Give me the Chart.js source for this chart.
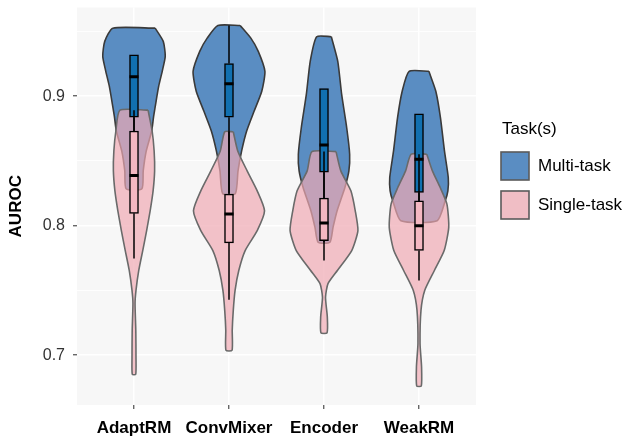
<!DOCTYPE html>
<html>
<head>
<meta charset="utf-8">
<script src="https://cdn.jsdelivr.net/npm/chart.js@4.4.1/dist/chart.umd.min.js"></script>
<style>
  html, body { margin: 0; padding: 0; background: #ffffff; }
  canvas { display: block; }
</style>
</head>
<body>
<canvas id="c" width="625" height="436"></canvas>
<script>
// ---------------- data ----------------
const categories = ['AdaptRM', 'ConvMixer', 'Encoder', 'WeakRM'];
const groups = ['Multi-task', 'Single-task'];
const yTicks = [0.7, 0.8, 0.9];
const yMinorGrid = [0.75, 0.85, 0.95];

// violin profiles: AUROC levels (top -> bottom) and density half-widths (category units)
const adaptMultiY  = [0.9525, 0.9423, 0.9308, 0.9192, 0.9077, 0.8962, 0.8846, 0.8731, 0.8577, 0.8423, 0.8285];
const adaptMultiW  = [0.223, 0.308, 0.329, 0.297, 0.260, 0.233, 0.207, 0.186, 0.129, 0.097, 0.083];
const adaptSingleY = [0.8892, 0.8731, 0.8577, 0.8423, 0.8269, 0.8115, 0.7962, 0.7808, 0.7654, 0.7500, 0.7400, 0.7192, 0.6985, 0.6852];
const adaptSingleW = [0.148, 0.191, 0.212, 0.217, 0.201, 0.170, 0.133, 0.092, 0.050, 0.021, 0.011, 0.019, 0.021, 0.018];

const convMultiY   = [0.9546, 0.9448, 0.9346, 0.9192, 0.9038, 0.8885, 0.8731, 0.8577, 0.8423, 0.8248];
const convMultiW   = [0.117, 0.230, 0.308, 0.378, 0.345, 0.265, 0.186, 0.133, 0.095, 0.067];
const convSingleY  = [0.8725, 0.8577, 0.8423, 0.8269, 0.8115, 0.7962, 0.7808, 0.7654, 0.7500, 0.7346, 0.7192, 0.7038];
const convSingleW  = [0.045, 0.092, 0.191, 0.297, 0.374, 0.297, 0.170, 0.103, 0.064, 0.045, 0.034, 0.032];

const encMultiY    = [0.9459, 0.9269, 0.9013, 0.8756, 0.8552, 0.8423, 0.8295, 0.8115, 0.7987, 0.7872];
const encMultiW    = [0.077, 0.145, 0.186, 0.239, 0.270, 0.262, 0.220, 0.138, 0.095, 0.062];
const encSingleY   = [0.8572, 0.8423, 0.8269, 0.8115, 0.7962, 0.7808, 0.7654, 0.7552, 0.7448, 0.7295, 0.7172];
const encSingleW   = [0.127, 0.177, 0.283, 0.329, 0.357, 0.292, 0.141, 0.042, 0.016, 0.035, 0.032];

const weakMultiY   = [0.9192, 0.9038, 0.8833, 0.8577, 0.8372, 0.8269, 0.8192, 0.8038];
const weakMultiW   = [0.104, 0.177, 0.226, 0.268, 0.308, 0.304, 0.276, 0.191];
const weakSingleY  = [0.8552, 0.8423, 0.8295, 0.8167, 0.7987, 0.7808, 0.7654, 0.7500, 0.7346, 0.7090, 0.6910, 0.6762];
const weakSingleW  = [0.082, 0.141, 0.223, 0.294, 0.313, 0.265, 0.162, 0.060, 0.021, 0.011, 0.027, 0.024];

// box stats per category: [whiskerLow, q1, median, q3, whiskerHigh]
const multiBox  = [
  [0.8285, 0.8838, 0.9149, 0.9320, 0.9320],
  [0.8248, 0.8838, 0.9095, 0.9252, 0.9546],
  [0.7872, 0.8413, 0.8623, 0.9059, 0.9059],
  [0.8038, 0.8256, 0.8513, 0.8864, 0.8864]
];
const singleBox = [
  [0.7746, 0.8095, 0.8387, 0.8731, 0.8892],
  [0.7428, 0.7867, 0.8090, 0.8244, 0.8725],
  [0.7731, 0.7885, 0.8021, 0.8213, 0.8572],
  [0.7577, 0.7808, 0.8000, 0.8192, 0.8552]
];

const multiProfiles  = [[adaptMultiY, adaptMultiW], [convMultiY, convMultiW], [encMultiY, encMultiW], [weakMultiY, weakMultiW]];
const singleProfiles = [[adaptSingleY, adaptSingleW], [convSingleY, convSingleW], [encSingleY, encSingleW], [weakSingleY, weakSingleW]];

// ---------------- styles ----------------
const FONT = '"Liberation Sans", Arial, Helvetica, sans-serif';
const blueFill = '#5a8dc2';
const blueLine = '#3a3a3a';
const pinkFill = 'rgba(240,170,180,0.70)';
const pinkLine = '#6a6a6a';
const blueBoxFill = '#1170b0';
const pinkBoxFill = '#f4b8c2';

function violinPoints(center, ys, ws) {
  const pts = [];
  for (let i = 0; i < ys.length; i++) pts.push({ x: center + ws[i], y: ys[i] });
  for (let i = ys.length - 1; i >= 0; i--) pts.push({ x: center - ws[i], y: ys[i] });
  pts.push({ x: pts[0].x, y: pts[0].y });
  return pts;
}

function whiskerPoints(stats) {
  const pts = [];
  stats.forEach((s, i) => {
    const x = i + 1;
    pts.push({ x, y: s[0] }, { x, y: s[1] }, { x, y: null });
    pts.push({ x, y: s[3] }, { x, y: s[4] }, { x, y: null });
  });
  return pts;
}

const datasets = [];
function addViolins(profiles, fill, line, order, label) {
  profiles.forEach((p, i) => {
    datasets.push({
      type: 'line',
      label: label,
      data: violinPoints(i + 1, p[0], p[1]),
      backgroundColor: fill,
      borderColor: line,
      borderWidth: 1.6,
      fill: 'shape',
      tension: 0.2,
      pointRadius: 0,
      showLine: true,
      order: order
    });
  });
}
addViolins(multiProfiles, blueFill, blueLine, 20, groups[0]);
addViolins(singleProfiles, pinkFill, pinkLine, 19, groups[1]);

function addBoxes(stats, boxFill, baseOrder) {
  datasets.push({
    type: 'line',
    data: whiskerPoints(stats),
    borderColor: '#000',
    borderWidth: 1.5,
    pointRadius: 0,
    spanGaps: false,
    showLine: true,
    fill: false,
    order: baseOrder
  });
  datasets.push({
    type: 'bar',
    data: stats.map((s, i) => ({ x: i + 1, y: [s[1], s[3]] })),
    backgroundColor: boxFill,
    borderColor: '#000',
    borderWidth: 1.5,
    borderSkipped: false,
    barThickness: 9,
    grouped: false,
    order: baseOrder - 1
  });
  datasets.push({
    type: 'scatter',
    data: stats.map((s, i) => ({ x: i + 1, y: s[2] })),
    pointStyle: 'line',
    pointRadius: 4.5,
    pointBorderWidth: 3,
    pointBorderColor: '#000',
    pointBackgroundColor: '#000',
    showLine: false,
    order: baseOrder - 2
  });
}
addBoxes(multiBox, blueBoxFill, 18);
addBoxes(singleBox, pinkBoxFill, 15);

const isMajor = v => yTicks.some(t => Math.abs(t - v) < 1e-6);

const bgPlugin = {
  id: 'panelBg',
  beforeDraw(chart) {
    const { ctx, chartArea: a } = chart;
    ctx.save();
    ctx.fillStyle = '#f7f7f7';
    ctx.fillRect(a.left, a.top, a.right - a.left, a.bottom - a.top);
    ctx.restore();
  }
};

const legendPlugin = {
  id: 'ggLegend',
  afterDraw(chart) {
    const ctx = chart.ctx;
    ctx.save();
    ctx.fillStyle = '#000';
    ctx.textBaseline = 'middle';
    ctx.textAlign = 'left';
    ctx.font = '17px ' + FONT;
    ctx.fillText('Task(s)', 502, 129);
    const keys = [[blueFill, 152], ['rgb(240,190,197)', 191]];
    keys.forEach((k, i) => {
      ctx.fillStyle = k[0];
      ctx.fillRect(501, k[1], 28, 28);
      ctx.strokeStyle = '#5a5a5a';
      ctx.lineWidth = 1.6;
      ctx.strokeRect(501, k[1], 28, 28);
      ctx.fillStyle = '#000';
      ctx.fillText(groups[i], 538, k[1] + 14.5);
    });
    ctx.restore();
  }
};

new Chart(document.getElementById('c').getContext('2d'), {
  type: 'scatter',
  data: { datasets },
  options: {
    responsive: false,
    animation: false,
    events: [],
    layout: { padding: { top: 6, right: 149, left: 0, bottom: 0 } },
    plugins: { legend: { display: false }, tooltip: { enabled: false } },
    scales: {
      x: {
        type: 'linear',
        min: 0.4,
        max: 4.6,
        offset: false,
        afterBuildTicks: s => { s.ticks = categories.map((c, i) => ({ value: i + 1 })); },
        afterFit: s => { s.height = 31; s.paddingLeft = 0; s.paddingRight = 0; },
        ticks: {
          callback: v => categories[Math.round(v) - 1],
          font: { family: FONT, size: 17, weight: 'bold' },
          color: '#000',
          padding: 9,
          autoSkip: false,
          maxRotation: 0
        },
        grid: { offset: false, color: '#ffffff', lineWidth: 1.5, tickColor: '#4d4d4d', tickLength: 4, tickWidth: 1.2 },
        border: { display: false }
      },
      y: {
        type: 'linear',
        min: 0.66154,
        max: 0.96846,
        afterBuildTicks: s => { s.ticks = yTicks.concat(yMinorGrid).sort().map(v => ({ value: v })); },
        afterFit: s => { s.width = 77; s.paddingTop = 0; s.paddingBottom = 0; },
        ticks: {
          callback: v => isMajor(v) ? v.toFixed(1) : '',
          font: { family: FONT, size: 16 },
          color: '#333',
          padding: 8
        },
        grid: {
          offset: false,
          color: '#ffffff',
          lineWidth: c => isMajor(c.tick.value) ? 1.5 : 0.8,
          tickColor: c => isMajor(c.tick.value) ? '#4d4d4d' : 'rgba(0,0,0,0)',
          tickLength: 4,
          tickWidth: 1.2
        },
        border: { display: false },
        title: {
          display: true,
          text: 'AUROC',
          font: { family: FONT, size: 17, weight: 'bold' },
          color: '#000',
          padding: { top: 6, bottom: 0 }
        }
      }
    }
  },
  plugins: [bgPlugin, legendPlugin]
});
</script>
</body>
</html>
